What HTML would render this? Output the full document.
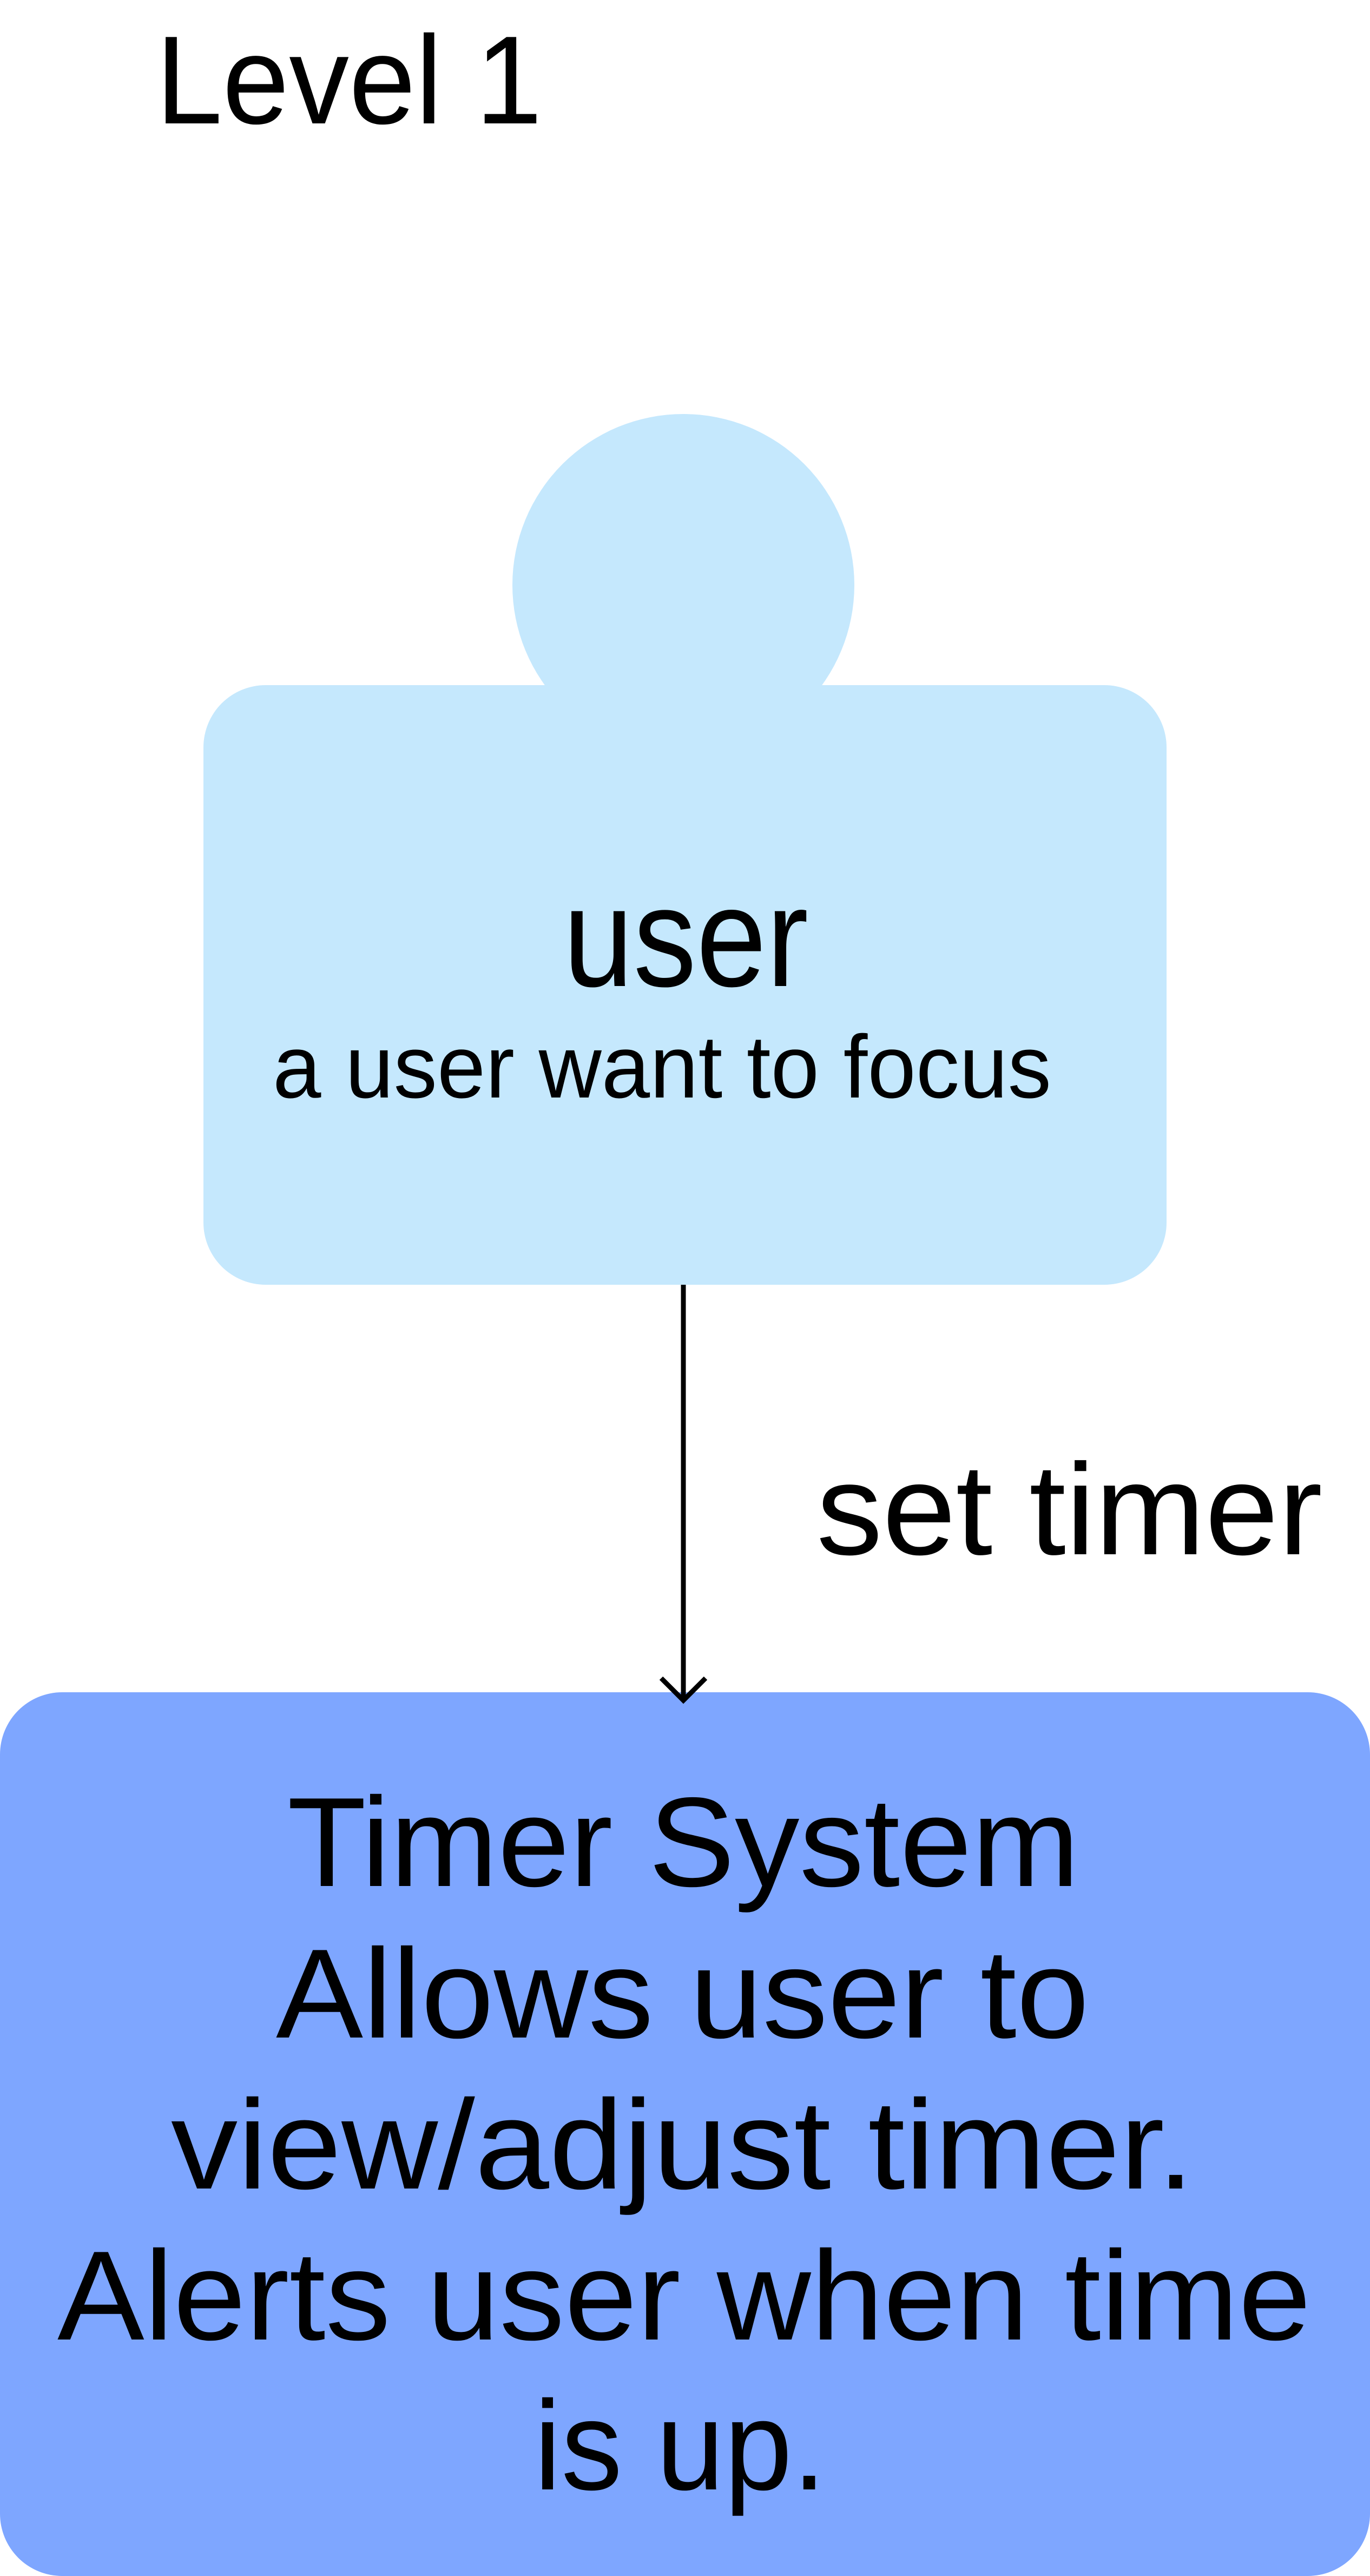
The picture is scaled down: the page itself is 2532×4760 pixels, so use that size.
<!DOCTYPE html>
<html><head><meta charset="utf-8"><style>
html,body{margin:0;padding:0;background:#fff}
svg{display:block}
text{font-family:"Liberation Sans",sans-serif;fill:#000}
</style></head><body>
<svg width="2532" height="4760" viewBox="0 0 2532 4760" xmlns="http://www.w3.org/2000/svg">
<rect width="2532" height="4760" fill="#fff"/>
<text x="288" y="228" font-size="232" textLength="714" lengthAdjust="spacingAndGlyphs">Level 1</text>
<circle cx="1263" cy="1081" r="316" fill="#C5E8FD"/>
<rect x="376" y="1266" width="1780" height="1108" rx="115" fill="#C5E8FD"/>
<text x="1041" y="1822" font-size="262" textLength="453" lengthAdjust="spacingAndGlyphs">user</text>
<text x="504" y="2028" font-size="165" textLength="1439" lengthAdjust="spacingAndGlyphs">a user want to focus</text>
<text x="1509" y="2872" font-size="240" textLength="935" lengthAdjust="spacingAndGlyphs">set timer</text>
<rect x="0" y="3127" width="2532" height="1633" rx="115" fill="#7EA6FF"/>
<line x1="1263" y1="2374" x2="1263" y2="3140" stroke="#000" stroke-width="9"/>
<polyline points="1222,3101 1263,3142 1304,3101" fill="none" stroke="#000" stroke-width="9"/>
<text x="531" y="3485" font-size="235" textLength="1464" lengthAdjust="spacingAndGlyphs">Timer System</text>
<text x="510" y="3765" font-size="235" textLength="1503" lengthAdjust="spacingAndGlyphs">Allows user to</text>
<text x="316" y="4044" font-size="235" textLength="1891" lengthAdjust="spacingAndGlyphs">view/adjust timer.</text>
<text x="106" y="4323" font-size="235" textLength="2317" lengthAdjust="spacingAndGlyphs">Alerts user when time</text>
<text x="987" y="4600" font-size="235" textLength="540" lengthAdjust="spacingAndGlyphs">is up.</text>
</svg>
</body></html>
